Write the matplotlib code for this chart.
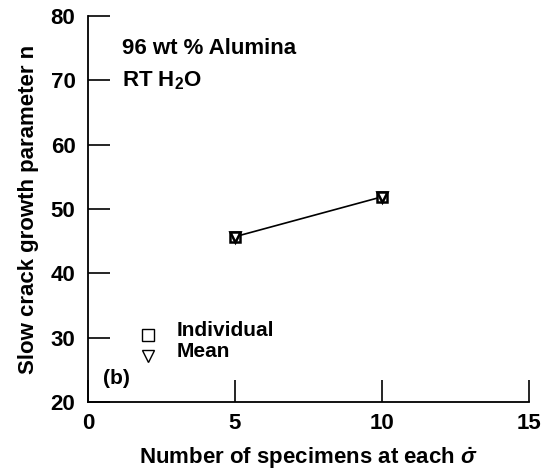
import matplotlib
matplotlib.use("Agg")
import matplotlib.pyplot as plt

plt.rcParams['font.family'] = ['Liberation Sans', 'DejaVu Sans']
plt.rcParams['font.weight'] = 'bold'
plt.rcParams['mathtext.fontset'] = 'custom'
plt.rcParams['mathtext.rm'] = 'Liberation Sans:bold'
plt.rcParams['mathtext.it'] = 'Liberation Sans:italic:bold'
plt.rcParams['mathtext.bf'] = 'Liberation Sans:bold'

specimens = [5, 10]
n_individual = [45.7, 51.9]
n_mean = [45.7, 51.9]
xticks = [0, 5, 10, 15]
yticks = [20, 30, 40, 50, 60, 70, 80]

fig = plt.figure(figsize=(5.43, 4.73), dpi=100)
ax = fig.add_axes([0.162, 0.150, 0.812, 0.816])

ax.plot(specimens, n_individual, color='black', lw=1.2, zorder=2)
ax.plot(specimens, n_individual, 's', mfc='white', mec='black', ms=7, mew=1.8, zorder=3)
ax.plot(specimens, n_mean, 'v', mfc='white', mec='black', ms=7, mew=1.8, zorder=4)

ax.set_xlim(0, 15)
ax.set_ylim(20, 80)
ax.set_xticks(xticks)
ax.set_yticks(yticks)
for s in ['top', 'right']:
    ax.spines[s].set_visible(False)
for s in ['left', 'bottom']:
    ax.spines[s].set_linewidth(1.3)
ax.tick_params(direction='in', length=16, width=1.2, labelsize=16, pad=9)
ax.tick_params(axis='x', pad=8)

ax.set_xlabel(r'Number of specimens at each $\dot{\sigma}$', fontsize=16, fontweight='bold', labelpad=8)
ax.set_ylabel('Slow crack growth parameter n', fontsize=16, fontweight='bold', labelpad=8)

ax.text(1.16, 74.9, '96 wt % Alumina', fontsize=16, fontweight='bold', va='center')
ax.text(1.16, 70.0, r'RT H$_2$O', fontsize=16, fontweight='bold', va='center')

ax.plot([2.03], [30.5], 's', mfc='white', mec='black', ms=9, mew=1.0, clip_on=False)
ax.plot([2.03], [27.2], 'v', mfc='white', mec='black', ms=9, mew=1.0, clip_on=False)
ax.text(3.0, 31.2, 'Individual', fontsize=15, fontweight='bold', va='center')
ax.text(3.0, 27.9, 'Mean', fontsize=15, fontweight='bold', va='center')
ax.text(0.51, 23.7, '(b)', fontsize=15, fontweight='bold', va='center')

fig.savefig('out.png', dpi=100)
